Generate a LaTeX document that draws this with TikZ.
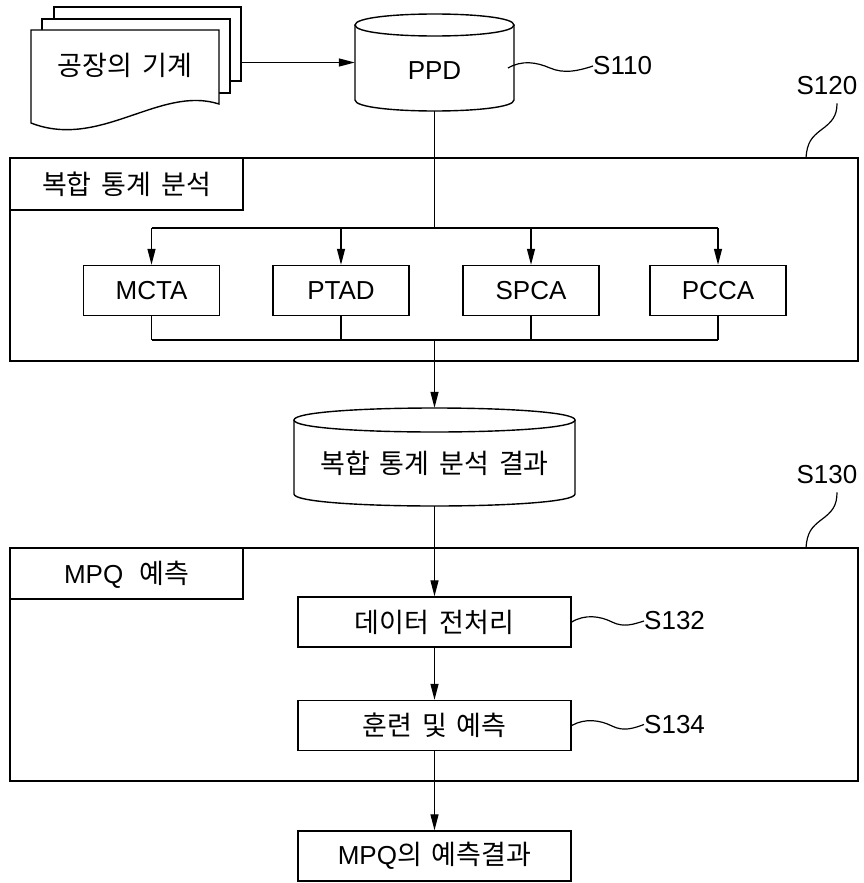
\documentclass[tikz,border=0pt]{standalone}
\usepackage{fontspec}
\setmainfont[WordSpace=1.65]{Noto Sans CJK KR}
\newfontfamily\latinfont[Scale=0.963]{Liberation Sans}
\newcommand\lat[1]{{\latinfont #1}}
\usetikzlibrary{arrows.meta}

% drum (database) outline: centre x, top-ellipse y, bottom-arc y, x radius, y radius
\newcommand\drumshape[5]{%
  \pgfmathsetmacro\dl{#1-#4}\pgfmathsetmacro\dr{#1+#4}\pgfmathsetmacro\dk{1.3333*#5}%
  \draw[frame,fill=white] (\dl,#2) .. controls (\dl,#2-\dk) and (\dr,#2-\dk) .. (\dr,#2)
        .. controls (\dr,#2+\dk) and (\dl,#2+\dk) .. (\dl,#2) -- cycle;
  \draw[frame] (\dl,#2) -- (\dl,#3) .. controls (\dl,#3+\dk) and (\dr,#3+\dk) .. (\dr,#3) -- (\dr,#2);
}

\begin{document}
\begin{tikzpicture}[x=1pt,y=-1pt,
  conn/.style={line width=1.3pt},
  arr/.style={conn,-{Triangle[length=16pt,width=8pt]}},
  lead/.style={line width=1.2pt},
  frame/.style={draw,line width=1.4pt},
  txt/.style={inner sep=0pt,font=\fontsize{27}{32}\selectfont},
  ltxt/.style={inner sep=0pt,font=\latinfont\fontsize{27}{32}\selectfont},
  procbox/.style={frame,txt,minimum height=50pt},
  algbox/.style={frame,ltxt,minimum height=50pt,minimum width=136pt},
  stepbox/.style={procbox,minimum width=273pt},
  hook/.style={inner sep=0pt},
]
\useasboundingbox (0,0) rectangle (864,883);

% stacked documents
\draw[frame,fill=white] (54,7) rectangle (241,81);
\draw[frame,fill=white] (42,19) rectangle (230,93);
\draw[frame,fill=white] (31,30) -- (219,30) -- (219,104)
      .. controls (160,85) and (100,150) .. (31,123) -- cycle;
\node[hook,minimum width=187pt,minimum height=74pt] (docs) at (147.5,44) {};
\node[txt] (doctxt) at (125,65) {공장의 기계};

% PPD store
\drumshape{434.5}{25}{100}{79.5}{11}
\node[hook,minimum width=159pt,minimum height=97pt] (ppd) at (434.5,62.5) {};
\node[ltxt] (ppdtxt) at (434.5,71) {PPD};
\draw[arr] (docs.east |- ppd.west) -- (ppd.west);

\coordinate (ppdtap) at (508,68);
\node[ltxt,anchor=west] (s110) at (593,66) {S110};
\draw[lead] (ppdtap) .. controls (522,60) and (536,62) .. (550,68)
      .. controls (564,74) and (578,71) .. (s110.west);

% composite statistical analysis
\draw[frame] (10,158) rectangle (858,361);
\draw[frame] (10,158) rectangle (243,210);
\node[txt] (stattitle) at (126.5,184) {복합 통계 분석};

\coordinate (stattap) at (806,158);
\node[ltxt] (s120) at (827,86) {S120};
\draw[lead] (stattap) .. controls (807,142) and (812,137) .. (821,130)
      .. controls (832,122) and (837,116) .. ([xshift=10pt,yshift=-8pt]s120.south);

\coordinate (split) at (434.5,228);
\coordinate (join) at (434.5,340);
\node[algbox] (mcta) at (151.5,290.5) {MCTA};
\node[algbox] (ptad) at (341,290.5) {PTAD};
\node[algbox] (spca) at (531,290.5) {SPCA};
\node[algbox] (pcca) at (718,290.5) {PCCA};

\draw[conn] (ppd.south) -- (split);
\draw[conn] (split -| mcta) -- (split -| pcca);
\draw[conn] (join -| mcta) -- (join -| pcca);
\foreach \n in {mcta,ptad,spca,pcca}{
  \draw[arr] (split -| \n) -- (\n.north);
  \draw[conn] (\n.south) -- (join -| \n);
}

% analysis result store
\drumshape{434.5}{420}{494}{140.5}{12}
\node[hook,minimum width=281pt,minimum height=98pt] (result) at (434.5,457) {};
\node[txt] (resulttxt) at (434.5,463) {복합 통계 분석 결과};
\draw[arr] (join) -- (result.north);

% MPQ prediction
\draw[frame] (10,548) rectangle (858,781);
\draw[frame] (10,548) rectangle (243,599);
\node[txt] (mpqtitle) at (126.5,575) {\lat{MPQ}\hspace{6pt} 예측};

\coordinate (mpqtap) at (806,548);
\node[ltxt] (s130) at (827,475) {S130};
\draw[lead] (mpqtap) .. controls (807,532) and (812,527) .. (821,520)
      .. controls (832,512) and (837,506) .. ([xshift=10pt,yshift=-8pt]s130.south);

\node[stepbox] (prep) at (434.5,622) {데이터 전처리};
\node[stepbox] (train) at (434.5,725.5) {훈련 및 예측};
\node[stepbox] (out) at (434.5,856) {\lat{MPQ}의 예측결과};

\draw[arr] (result.south) -- (prep.north);
\draw[arr] (prep.south) -- (train.north);
\draw[arr] (train.south) -- (out.north);

\node[ltxt,anchor=west] (s132) at (644,621) {S132};
\draw[lead] (prep.east) .. controls (585,614) and (600,616) .. (612,622)
      .. controls (624,628) and (634,624) .. (s132.west);
\node[ltxt,anchor=west] (s134) at (644,724.5) {S134};
\draw[lead] (train.east) .. controls (585,718) and (600,720) .. (612,726)
      .. controls (624,732) and (634,728) .. (s134.west);
\end{tikzpicture}
\end{document}
